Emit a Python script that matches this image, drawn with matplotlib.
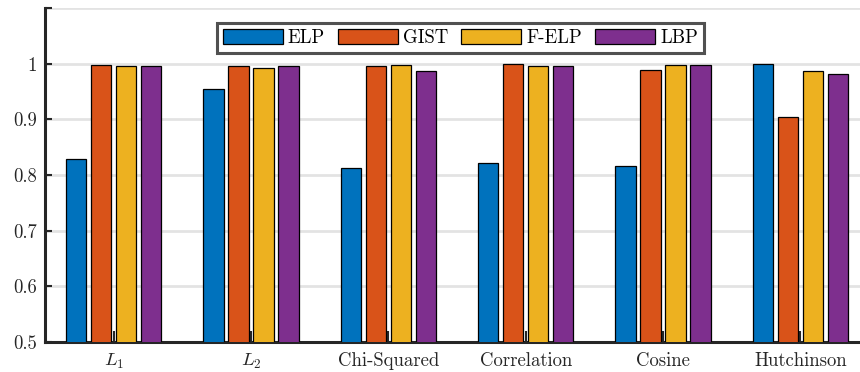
import matplotlib
matplotlib.use("Agg")
import matplotlib.pyplot as plt
import numpy as np

categories = ["$L_1$", "$L_2$", "Chi-Squared", "Correlation", "Cosine", "Hutchinson"]
series_names = ["ELP", "GIST", "F-ELP", "LBP"]
elp = [0.829, 0.955, 0.813, 0.822, 0.817, 1.000]
gist = [0.998, 0.995, 0.996, 0.999, 0.989, 0.905]
felp = [0.995, 0.992, 0.997, 0.996, 0.998, 0.986]
lbp = [0.996, 0.995, 0.987, 0.996, 0.997, 0.981]
yticks = [0.5, 0.6, 0.7, 0.8, 0.9, 1.0, 1.1]
ytick_labels = ["0.5", "0.6", "0.7", "0.8", "0.9", "1", ""]

colors = ["#0072BD", "#D95319", "#EDB120", "#7E2F8E"]

plt.rcParams["font.family"] = ["cmr10", "DejaVu Serif"]
plt.rcParams["mathtext.fontset"] = "cm"
plt.rcParams["axes.formatter.use_mathtext"] = True

fig = plt.figure(figsize=(8.6, 3.72), dpi=100)
ax = fig.add_axes([45/860, 30/372, 824/860, 334/372])

x = np.arange(1, len(categories) + 1)
step = 0.182
width = 0.146
data = [elp, gist, felp, lbp]
for i, (vals, name, c) in enumerate(zip(data, series_names, colors)):
    ax.bar(x + (i - 1.5) * step, vals, width=width, color=c, edgecolor="black",
           linewidth=0.9, label=name, zorder=3)

ax.set_xlim(0.5, 6.5)
ax.set_ylim(0.5, 1.1)
ax.set_yticks(yticks)
ax.set_yticklabels(ytick_labels)
ax.set_xticks(x)
ax.set_xticklabels(categories)
ax.tick_params(axis="both", direction="in", labelsize=13.5, color="#262626",
               width=1.5, length=5, colors="#262626")
ax.tick_params(axis="x", length=8, pad=7)
ax.tick_params(axis="y", pad=6)
ax.yaxis.grid(True, color="#e3e3e3", linewidth=2, zorder=0)
ax.set_axisbelow(True)
for s in ["top", "right"]:
    ax.spines[s].set_visible(False)
for s in ["left", "bottom"]:
    ax.spines[s].set_linewidth(2.2)
    ax.spines[s].set_color("#262626")

leg = ax.legend(loc="upper center", bbox_to_anchor=(0.504, 0.955), ncol=4,
                fontsize=13.5, frameon=True, fancybox=False, handlelength=3.2,
                handleheight=0.9, columnspacing=0.7, handletextpad=0.27,
                borderpad=0.3, borderaxespad=0)
leg.get_frame().set_edgecolor("#262626")
leg.get_frame().set_linewidth(2.2)

fig.savefig("out.png", dpi=100)
